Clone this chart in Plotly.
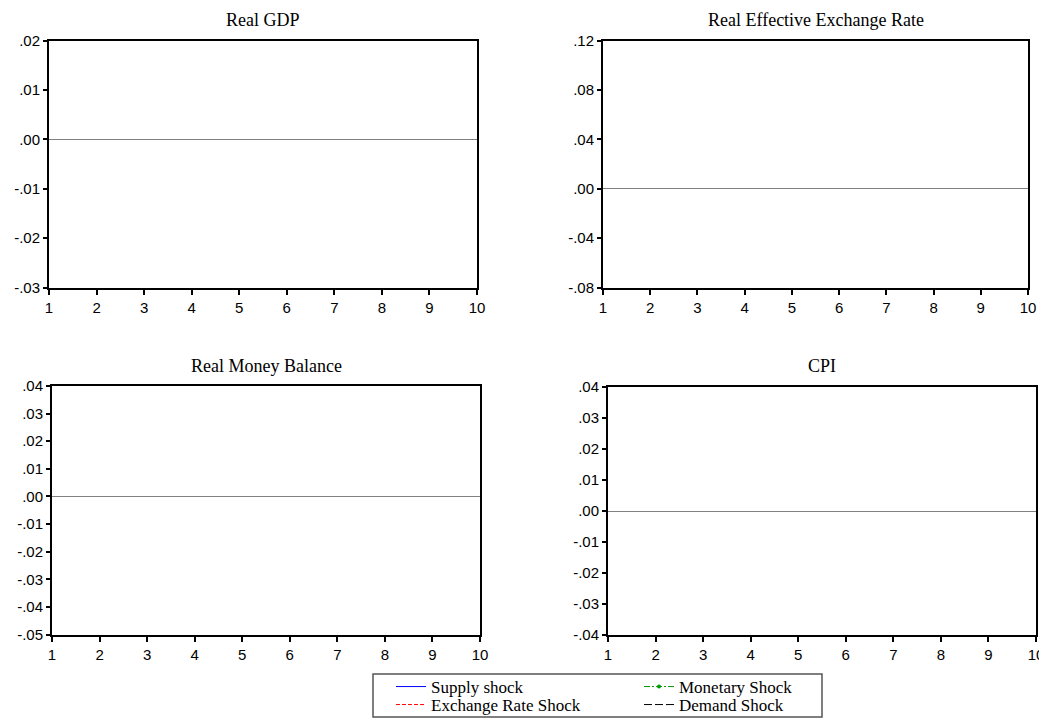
import plotly.graph_objects as go

periods = [1, 2, 3, 4, 5, 6, 7, 8, 9, 10]

panel_titles = ["Real GDP", "Real Effective Exchange Rate", "Real Money Balance", "CPI"]

# Series values are not visible in the reference (only the zero line is drawn)
supply_shock = [None] * 10
exchange_rate_shock = [None] * 10
monetary_shock = [None] * 10
demand_shock = [None] * 10

y_ranges = [[-0.03, 0.02], [-0.08, 0.12], [-0.05, 0.04], [-0.04, 0.04]]
y_tickvals = [
    [0.02, 0.01, 0.00, -0.01, -0.02, -0.03],
    [0.12, 0.08, 0.04, 0.00, -0.04, -0.08],
    [0.04, 0.03, 0.02, 0.01, 0.00, -0.01, -0.02, -0.03, -0.04, -0.05],
    [0.04, 0.03, 0.02, 0.01, 0.00, -0.01, -0.02, -0.03, -0.04],
]
y_ticktext = [
    [".02", ".01", ".00", "-.01", "-.02", "-.03"],
    [".12", ".08", ".04", ".00", "-.04", "-.08"],
    [".04", ".03", ".02", ".01", ".00", "-.01", "-.02", "-.03", "-.04", "-.05"],
    [".04", ".03", ".02", ".01", ".00", "-.01", "-.02", "-.03", "-.04"],
]

OFF = 8  # page body margin
W, H = 1047 - OFF, 719 - OFF


def px(v):
    return (v - OFF) / W


def py(v):
    return 1 - (v - OFF) / H


# panel pixel boxes (in window pixels): left, right, top, bottom
boxes = [(49, 477, 40.5, 287.5), (603, 1028, 40.5, 287.5),
         (52, 480, 386, 634.5), (608, 1036, 387, 635)]

# name, values, line style, legend id, legend x (px), legend row centre (px)
series = [
    ("Supply shock", supply_shock, dict(color="#0000ff", width=1, dash="solid"),
     "legend", 391, 687),
    ("Monetary Shock", monetary_shock, dict(color="#009900", width=1, dash="6px,2px,2px,2px"),
     "legend2", 639, 687),
    ("Exchange Rate Shock", exchange_rate_shock, dict(color="#ff0000", width=1, dash="4px,2px"),
     "legend3", 391, 705),
    ("Demand Shock", demand_shock, dict(color="#000000", width=1, dash="8px,3px"),
     "legend4", 639, 705),
]

fig = go.Figure()
serif = "Liberation Serif, Times New Roman, serif"
sans = "Liberation Sans, Arial, sans-serif"

for i in range(4):
    l, r, t, b = boxes[i]
    xa = "x" if i == 0 else f"x{i+1}"
    ya = "y" if i == 0 else f"y{i+1}"
    for name, vals, line, lg, _, _ in series:
        is_mon = name == "Monetary Shock"
        fig.add_trace(go.Scatter(
            x=periods, y=vals, name=name,
            mode="lines+markers" if is_mon else "lines", line=line,
            marker=dict(size=4, color="#009900", symbol="circle"),
            xaxis=xa, yaxis=ya, legend=lg, legendgroup=name,
            showlegend=(i == 0)))
    xkey = "xaxis" if i == 0 else f"xaxis{i+1}"
    ykey = "yaxis" if i == 0 else f"yaxis{i+1}"
    fig.layout[xkey] = dict(
        domain=[px(l), px(r)], anchor=ya, range=[1, 10],
        tickvals=periods, ticktext=[str(p) for p in periods],
        ticks="outside", ticklen=5, tickwidth=1.5, tickcolor="black",
        showline=True, linecolor="black", linewidth=2, mirror=True,
        showgrid=False, zeroline=False, automargin=False,
        tickfont=dict(family=sans, size=15, color="black"))
    fig.layout[ykey] = dict(
        domain=[py(b), py(t)], anchor=xa, range=y_ranges[i],
        tickvals=y_tickvals[i], ticktext=y_ticktext[i],
        ticks="outside", ticklen=4, tickwidth=1.5, tickcolor="black",
        showline=True, linecolor="black", linewidth=2, mirror=True,
        showgrid=False, zeroline=True, zerolinecolor="#808080", zerolinewidth=1.2,
        automargin=False,
        tickfont=dict(family=sans, size=15, color="black"))
    fig.add_annotation(
        text=panel_titles[i], xref="paper", yref="paper",
        x=px((l + r) / 2), y=py(t - 20.5), xanchor="center", yanchor="middle",
        showarrow=False, font=dict(family=serif, size=18, color="black"))

# legend frame
fig.add_shape(type="rect", xref="paper", yref="paper",
              x0=px(373), x1=px(822), y0=py(717), y1=py(674),
              line=dict(color="#555555", width=1.5), fillcolor="rgba(0,0,0,0)")

legend_layout = {}
for name, vals, line, lg, lx, ly in series:
    legend_layout[lg] = dict(
        x=px(lx), y=py(ly), xanchor="left", yanchor="middle",
        orientation="v", bgcolor="rgba(0,0,0,0)", borderwidth=0,
        font=dict(family=serif, size=17, color="black"), itemwidth=30)

fig.update_layout(
    width=W, height=H,
    margin=dict(l=0, r=0, t=0, b=0, autoexpand=False),
    paper_bgcolor="white", plot_bgcolor="white",
    **legend_layout,
)

fig.write_html("out.html")
